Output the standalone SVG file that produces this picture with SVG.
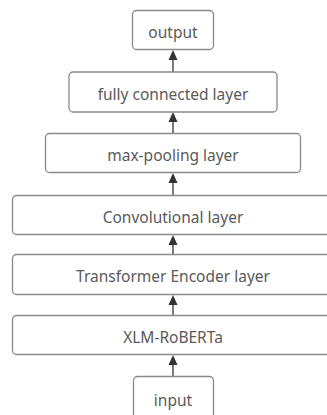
<svg xmlns="http://www.w3.org/2000/svg" width="327" height="415" viewBox="0 0 327 415">
<style>
.box{fill:#fff;stroke:#8a8a8a;stroke-width:1.3}
.t{font-family:"Noto Sans","Open Sans",sans-serif;font-size:15.5px;fill:#5a5a5a;text-anchor:middle;dominant-baseline:central}
.c{stroke:#333;stroke-width:1.3;fill:none}
.h{fill:#333}
</style>
<rect width="327" height="415" fill="#fff"/>
<g id="connectors">
<line class="c" x1="173" y1="72" x2="173" y2="55"/>
<path class="h" d="M168.5,60 L173,50 L177.5,60 Z"/>
<line class="c" x1="173" y1="133" x2="173" y2="117"/>
<path class="h" d="M168.5,122 L173,112 L177.5,122 Z"/>
<line class="c" x1="173" y1="195" x2="173" y2="178"/>
<path class="h" d="M168.5,183 L173,173 L177.5,183 Z"/>
<line class="c" x1="173" y1="254" x2="173" y2="240"/>
<path class="h" d="M168.5,245 L173,235 L177.5,245 Z"/>
<line class="c" x1="173" y1="315" x2="173" y2="300"/>
<path class="h" d="M168.5,305 L173,295 L177.5,305 Z"/>
<line class="c" x1="173" y1="376" x2="173" y2="360"/>
<path class="h" d="M168.5,365 L173,355 L177.5,365 Z"/>
</g>
<g id="output"><rect class="box" x="132.5" y="10.5" width="81" height="39" rx="4"/><text class="t" x="173" y="31.5">output</text></g>
<g id="fc"><rect class="box" x="69" y="72" width="208" height="40" rx="4"/><text class="t" x="173" y="93.5">fully connected layer</text></g>
<g id="maxpool"><rect class="box" x="45.5" y="133.5" width="255" height="39" rx="4"/><text class="t" x="173" y="154.5">max-pooling layer</text></g>
<g id="conv"><rect class="box" x="12.5" y="195.5" width="322" height="39" rx="4"/><text class="t" x="173" y="216.5">Convolutional layer</text></g>
<g id="transformer"><rect class="box" x="12.5" y="254.5" width="322" height="40" rx="4"/><text class="t" x="173" y="276">Transformer Encoder layer</text></g>
<g id="xlmr"><rect class="box" x="12.5" y="315.5" width="322" height="39" rx="4"/><text class="t" x="173" y="336.5">XLM-RoBERTa</text></g>
<g id="input"><rect class="box" x="133.5" y="376.5" width="80" height="45" rx="4"/><text class="t" x="173" y="400">input</text></g>
</svg>
